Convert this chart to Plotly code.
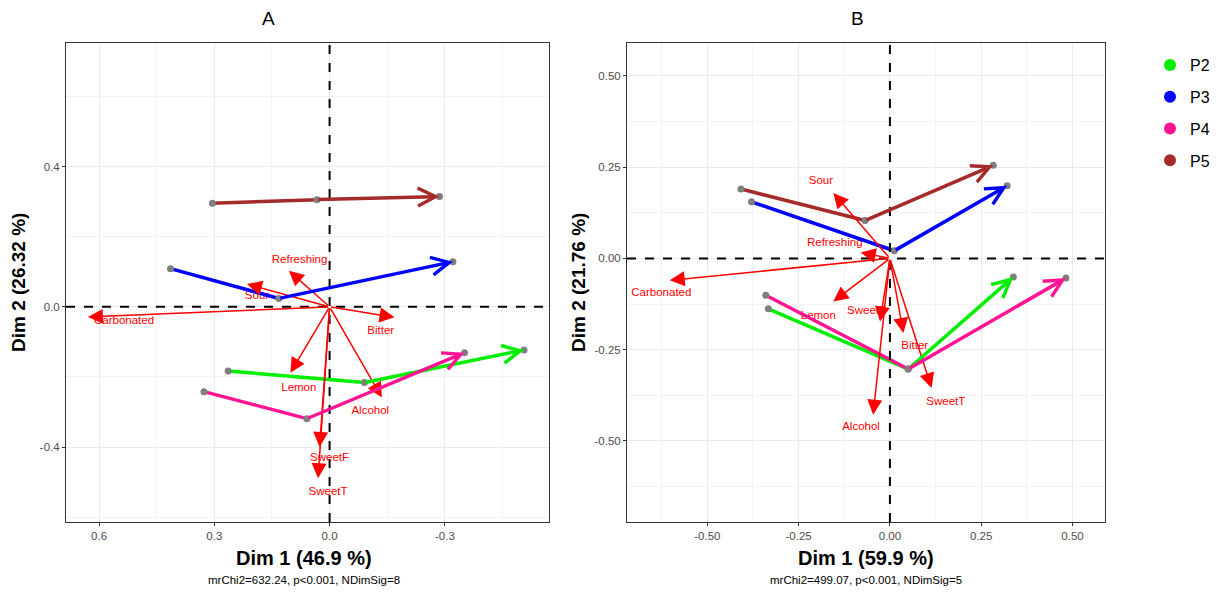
import plotly.graph_objects as go

W, H = 1224, 596

groups = ["P2", "P3", "P4", "P5"]
colors = {"P2": "#00ee00", "P3": "#0000ff", "P4": "#ff1493", "P5": "#a52a2a"}

# Panel A: trajectories (x, y) per group, arrow at last point
A_traj_x = {
    "P2": [0.264, -0.091, -0.506],
    "P3": [0.414, 0.132, -0.321],
    "P4": [0.327, 0.059, -0.351],
    "P5": [0.305, 0.033, -0.286],
}
A_traj_y = {
    "P2": [-0.183, -0.216, -0.123],
    "P3": [0.109, 0.024, 0.129],
    "P4": [-0.242, -0.319, -0.131],
    "P5": [0.296, 0.306, 0.315],
}
attributes = ["Carbonated", "Sour", "Refreshing", "Bitter", "Lemon", "Alcohol", "SweetF", "SweetT"]
A_att_x = [0.629, 0.215, 0.106, -0.169, 0.102, -0.136, 0.026, 0.030]
A_att_y = [-0.029, 0.065, 0.103, -0.030, -0.188, -0.259, -0.400, -0.489]
A_lab_x = [0.535, 0.189, 0.078, -0.133, 0.080, -0.106, 0.000, 0.004]
A_lab_y = [-0.042, 0.030, 0.133, -0.070, -0.232, -0.297, -0.432, -0.530]

# Panel B
B_traj_x = {
    "P2": [-0.333, 0.050, 0.338],
    "P3": [-0.379, 0.012, 0.321],
    "P4": [-0.340, 0.050, 0.482],
    "P5": [-0.408, -0.068, 0.283],
}
B_traj_y = {
    "P2": [-0.138, -0.303, -0.051],
    "P3": [0.155, 0.021, 0.199],
    "P4": [-0.101, -0.303, -0.054],
    "P5": [0.190, 0.104, 0.255],
}
B_att_x = [-0.603, -0.155, -0.080, 0.037, -0.155, -0.046, -0.027, 0.114]
B_att_y = [-0.060, 0.179, 0.016, -0.204, -0.118, -0.428, -0.173, -0.355]
B_lab_x = [-0.626, -0.189, -0.151, 0.068, -0.196, -0.079, -0.064, 0.153]
B_lab_y = [-0.095, 0.211, 0.042, -0.239, -0.157, -0.463, -0.145, -0.395]

A_xticks = [0.6, 0.3, 0.0, -0.3]
A_yticks = [0.4, 0.0, -0.4]
B_ticks = [-0.50, -0.25, 0.00, 0.25, 0.50]
B_ticklabels = ["-0.50", "-0.25", "0.00", "0.25", "0.50"]

fig = go.Figure()
annotations = []
FONT = "Liberation Sans, Arial, sans-serif"

def add_panel(xa, ya, tx, ty, ax_, ay_, lx, ly):
    # attribute arrows
    for i, att in enumerate(attributes):
        annotations.append(dict(
            x=ax_[i], y=ay_[i], ax=0, ay=0, xref=xa, yref=ya, axref=xa, ayref=ya,
            text="", showarrow=True, arrowhead=2, arrowsize=2.0, arrowwidth=1.5,
            arrowcolor="#ff0000", standoff=0, startstandoff=0))
    fig.add_trace(go.Scatter(
        x=lx, y=ly, mode="text", text=attributes, xaxis=xa, yaxis=ya,
        textfont=dict(color="#ff0000", size=11.5, family=FONT), showlegend=False, hoverinfo="skip"))
    # trajectories
    for g in groups:
        xs, ys = tx[g], ty[g]
        fig.add_trace(go.Scatter(
            x=xs[:2], y=ys[:2], mode="lines", line=dict(color=colors[g], width=3.5),
            xaxis=xa, yaxis=ya, showlegend=False, hoverinfo="skip"))
        annotations.append(dict(
            x=xs[2], y=ys[2], ax=xs[1], ay=ys[1], xref=xa, yref=ya, axref=xa, ayref=ya,
            text="", showarrow=True, arrowhead=5, arrowsize=1.0, arrowwidth=3.5,
            arrowcolor=colors[g], standoff=0, startstandoff=0))
    for g in groups:
        fig.add_trace(go.Scatter(
            x=tx[g], y=ty[g], mode="markers", marker=dict(color="#7f7f7f", size=7),
            xaxis=xa, yaxis=ya, showlegend=False, hoverinfo="skip"))

add_panel("x", "y", A_traj_x, A_traj_y, A_att_x, A_att_y, A_lab_x, A_lab_y)
add_panel("x2", "y2", B_traj_x, B_traj_y, B_att_x, B_att_y, B_lab_x, B_lab_y)

for g in groups:
    fig.add_trace(go.Scatter(
        x=[None], y=[None], mode="markers", name=g, legendgroup=g,
        marker=dict(color=colors[g], size=10)))

shapes = []
for xa, ya in [("x", "y"), ("x2", "y2")]:
    shapes.append(dict(type="line", xref=xa, yref=ya + " domain", x0=0, x1=0, y0=0, y1=1,
                       line=dict(color="black", width=2, dash="dash"), layer="above"))
    shapes.append(dict(type="line", xref=xa + " domain", yref=ya, x0=0, x1=1, y0=0, y1=0,
                       line=dict(color="black", width=2, dash="dash"), layer="above"))

def P(px, py):
    return px / W, 1 - py / H

for txt, px, py, size, bold, ang in [
    ("A", 268, 18, 19, False, 0),
    ("B", 857, 18, 19, False, 0),
    ("<b>Dim 1 (46.9 %)</b>", 304, 558, 20, True, 0),
    ("<b>Dim 1 (59.9 %)</b>", 866, 558, 20, True, 0),
    ("mrChi2=632.24, p<0.001, NDimSig=8", 304, 580, 11.5, False, 0),
    ("mrChi2=499.07, p<0.001, NDimSig=5", 866, 580, 11.5, False, 0),
    ("<b>Dim 2 (26.32 %)</b>", 18, 283, 19, True, -90),
    ("<b>Dim 2 (21.76 %)</b>", 578, 283, 19, True, -90),
]:
    x, y = P(px, py)
    annotations.append(dict(text=txt, x=x, y=y, xref="paper", yref="paper", showarrow=False,
                            xanchor="center", yanchor="middle", textangle=ang,
                            font=dict(size=size, color="black", family=FONT)))

axis_common = dict(showgrid=True, gridcolor="#ebebeb", gridwidth=1, zeroline=False,
                   showline=True, linecolor="#333333", linewidth=1, mirror=True,
                   ticks="outside", ticklen=3, tickcolor="#333333",
                   tickfont=dict(size=11.5, color="#4d4d4d", family=FONT))

fig.update_layout(
    width=W, height=H, margin=dict(l=0, r=0, t=0, b=0),
    plot_bgcolor="white", paper_bgcolor="white",
    font=dict(family=FONT),
    xaxis=dict(domain=[66 / W, 549 / W], range=[0.686, -0.571], tickvals=A_xticks,
               ticktext=["0.6", "0.3", "0.0", "-0.3"],
               minor=dict(tickvals=[0.45, 0.15, -0.15, -0.45], showgrid=True, gridcolor="#f3f3f3", ticks=""),
               anchor="y", **axis_common),
    yaxis=dict(domain=[1 - 522 / H, 1 - 43 / H], range=[-0.614, 0.753], tickvals=A_yticks,
               ticktext=["0.4", "0.0", "-0.4"],
               minor=dict(tickvals=[0.6, 0.2, -0.2, -0.6], showgrid=True, gridcolor="#f3f3f3", ticks=""),
               anchor="x", **axis_common),
    xaxis2=dict(domain=[627 / W, 1105 / W], range=[-0.720, 0.589], tickvals=B_ticks,
                ticktext=B_ticklabels,
                minor=dict(tickvals=[-0.625, -0.375, -0.125, 0.125, 0.375], showgrid=True, gridcolor="#f3f3f3", ticks=""),
                anchor="y2", **axis_common),
    yaxis2=dict(domain=[1 - 522 / H, 1 - 43 / H], range=[-0.722, 0.590], tickvals=B_ticks,
                ticktext=B_ticklabels,
                minor=dict(tickvals=[-0.625, -0.375, -0.125, 0.125, 0.375], showgrid=True, gridcolor="#f3f3f3", ticks=""),
                anchor="x2", **axis_common),
    legend=dict(x=1150 / W, y=1 - 48 / H, xanchor="left", yanchor="top",
                font=dict(size=16, color="black", family=FONT), tracegroupgap=8,
                itemsizing="constant"),
    shapes=shapes, annotations=annotations,
)

fig.write_html("out.html", config={"displayModeBar": False},
               post_script="document.body.style.margin='0px';")
